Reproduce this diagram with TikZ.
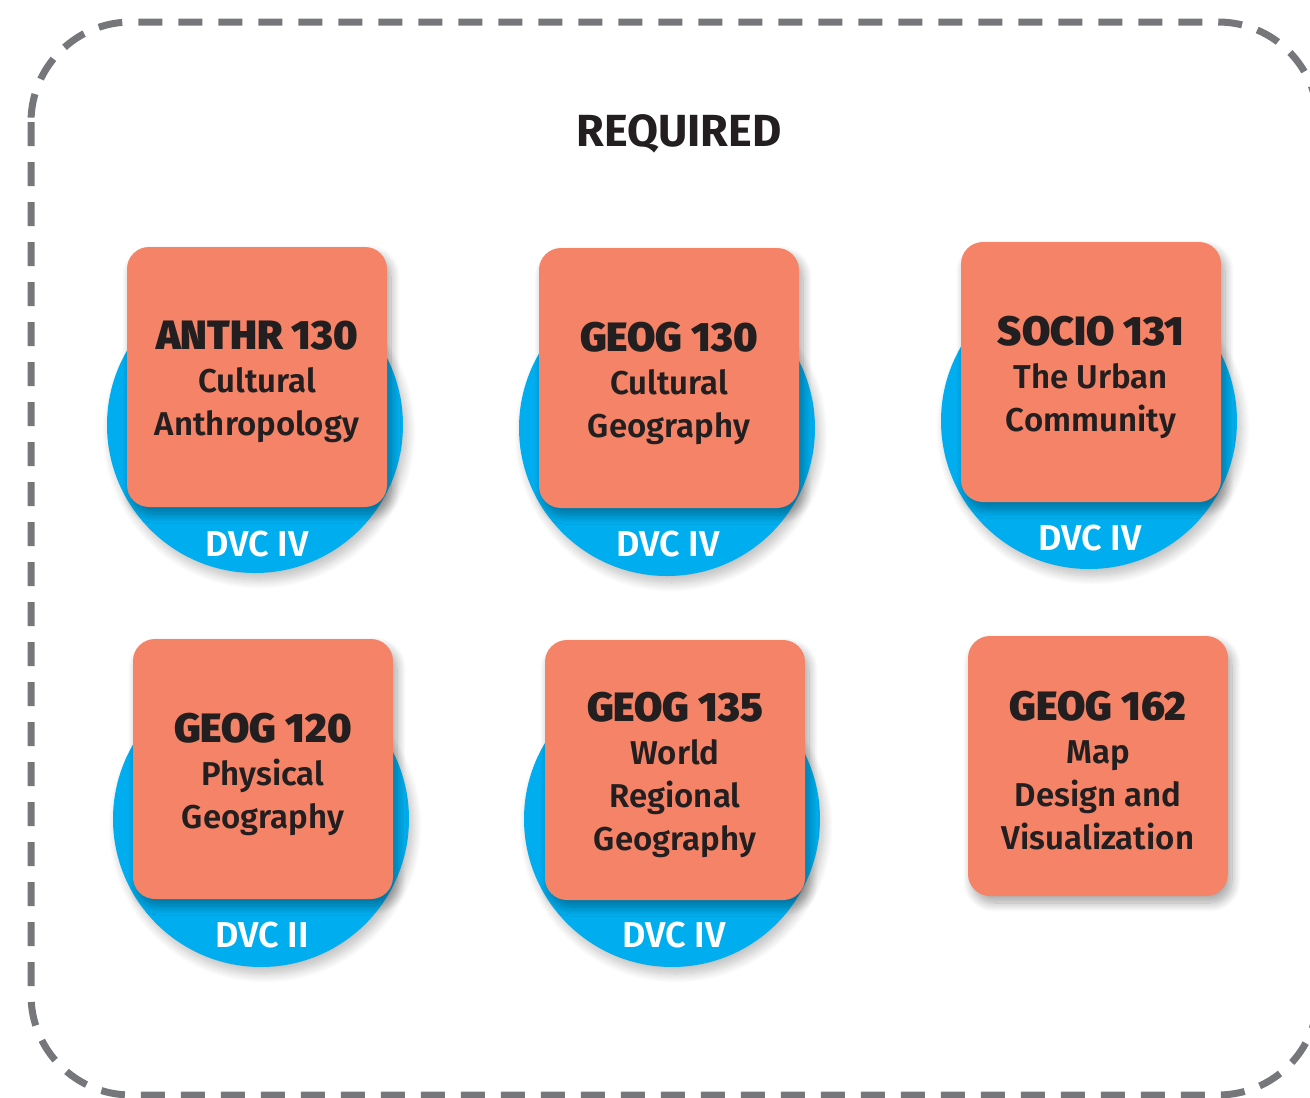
\documentclass[tikz,border=0pt]{standalone}
\usepackage{fontspec}
\setmainfont{Fira Sans}
\newfontfamily\semib{Fira Sans SemiBold}
\usetikzlibrary{shadows.blur}
\definecolor{salmon}{HTML}{F48367}
\definecolor{dvcblue}{HTML}{00AEEF}
\definecolor{ink}{HTML}{231F20}
\definecolor{dashgray}{HTML}{76777B}
\tikzset{
  coursebox/.style={rectangle, rounded corners=22pt, minimum width=260pt, minimum height=260pt,
    fill=salmon, inner sep=0pt,
    blur shadow={shadow xshift=4pt, shadow yshift=-7pt, shadow blur radius=9pt, shadow opacity=35, shadow blur steps=12}},
  coursetext/.style={text=ink, align=center, inner sep=0pt,
    font=\semib\fontsize{33}{43}\selectfont},
  dvcdisk/.style={circle, minimum size=296pt, inner sep=0pt, fill=dvcblue,
    blur shadow={shadow xshift=4pt, shadow yshift=-7pt, shadow blur radius=9pt, shadow opacity=25, shadow blur steps=12}},
  dvclabel/.style={text=white, font=\semib\fontsize{36}{40}\selectfont, inner sep=0pt},
  frame/.style={draw=dashgray, line width=7pt, dash pattern=on 24pt off 16pt, rounded corners=100pt},
  heading/.style={text=ink, font=\bfseries\fontsize{45}{50}\selectfont, inner sep=0pt}
}
\newcommand\ctitle[1]{{\bfseries\fontsize{41}{43}\selectfont #1}}
\begin{document}
\begin{tikzpicture}[x=1pt,y=-1pt]
\useasboundingbox (0,0) rectangle (1310,1098);
\draw[frame] (31,22) rectangle (1318,1095);
\node[heading] (req) at (679,134) {REQUIRED};
% row 1
\node[dvcdisk] (c1) at (255,425) {};
\node[coursebox] (s1) at (257,377) {};
\node[coursetext] (t1) at ([yshift=-5pt]s1.center) {\ctitle{ANTHR 130}\\Cultural\\Anthropology};
\node[dvclabel] (d1) at (257,544) {DVC IV};
\node[dvcdisk] (c2) at (667,428) {};
\node[coursebox] (s2) at (669,378) {};
\node[coursetext] (t2) at ([yshift=-5pt]s2.center) {\ctitle{GEOG 130}\\Cultural\\Geography};
\node[dvclabel] (d2) at (668,544) {DVC IV};
\node[dvcdisk] (c3) at (1089,421) {};
\node[coursebox] (s3) at (1091,372) {};
\node[coursetext] (t3) at ([yshift=-5pt]s3.center) {\ctitle{SOCIO 131}\\The Urban\\Community};
\node[dvclabel] (d3) at (1090,538) {DVC IV};
% row 2
\node[dvcdisk] (c4) at (261,819) {};
\node[coursebox] (s4) at (263,769) {};
\node[coursetext] (t4) at ([yshift=-5pt]s4.center) {\ctitle{GEOG 120}\\Physical\\Geography};
\node[dvclabel] (d4) at (262,935) {DVC II};
\node[dvcdisk] (c5) at (672,819) {};
\node[coursebox] (s5) at (675,770) {};
\node[coursetext] (t5) at ([yshift=-5pt]s5.center) {\ctitle{GEOG 135}\\World\\Regional\\Geography};
\node[dvclabel] (d5) at (674,935) {DVC IV};
\node[coursebox] (s6) at (1098,766) {};
\node[coursetext] (t6) at ([yshift=-5pt]s6.center) {\ctitle{GEOG 162}\\Map\\Design and\\Visualization};
\end{tikzpicture}
\end{document}
